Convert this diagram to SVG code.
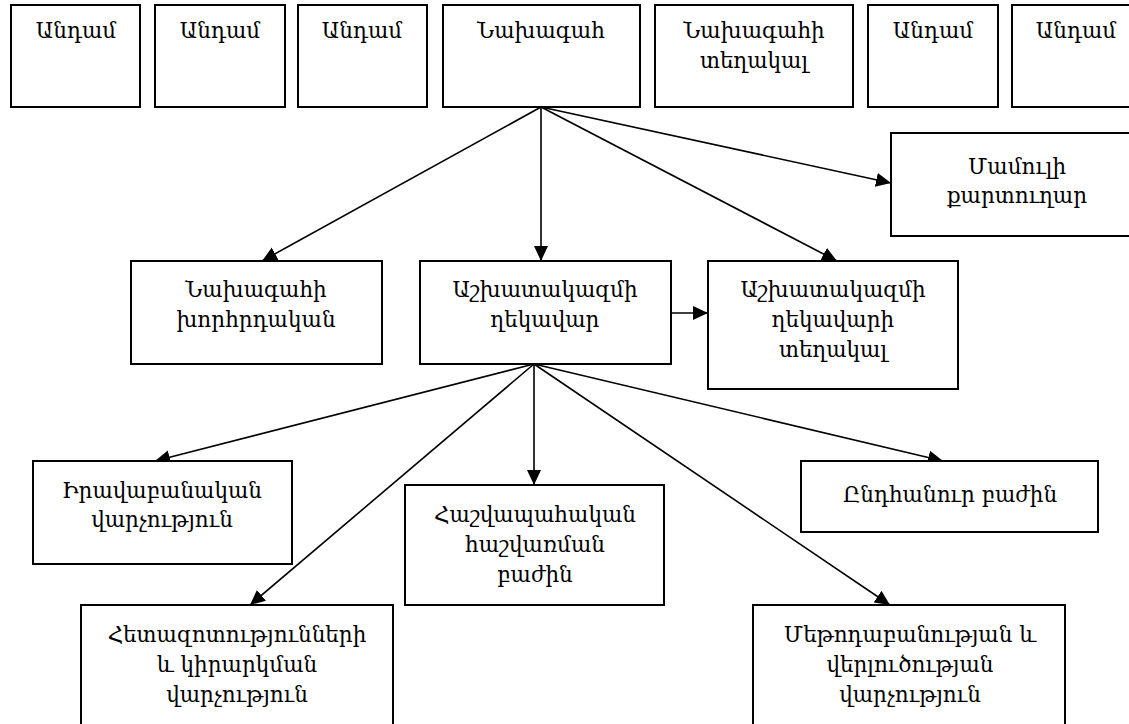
<svg xmlns="http://www.w3.org/2000/svg" width="1129" height="724" viewBox="0 0 1129 724">
<style>
.box{fill:#fff;stroke:#000;stroke-width:2}
.t{font-family:"DejaVu Serif","Noto Sans",serif;font-size:21.5px;text-anchor:middle;fill:#000}
.c{stroke:#000;stroke-width:1.6;fill:none;marker-end:url(#ah)}
</style>
<defs>
<marker id="ah" markerUnits="userSpaceOnUse" markerWidth="16" markerHeight="16" refX="15" refY="7" orient="auto">
<path d="M0,0 L15,7 L0,14 Z" fill="#000"/>
</marker>
</defs>
<rect width="1129" height="724" fill="#fff"/>
<g id="connectors">
<line class="c" x1="541" y1="107" x2="262" y2="261"/>
<line class="c" x1="541" y1="107" x2="541" y2="261"/>
<line class="c" x1="541" y1="107" x2="837" y2="261"/>
<line class="c" x1="541" y1="107" x2="891" y2="183"/>
<line class="c" x1="671" y1="313" x2="708" y2="313"/>
<line class="c" x1="534" y1="364" x2="155" y2="461"/>
<line class="c" x1="534" y1="364" x2="250" y2="605"/>
<line class="c" x1="534" y1="364" x2="534" y2="485"/>
<line class="c" x1="534" y1="364" x2="890" y2="605"/>
<line class="c" x1="534" y1="364" x2="943" y2="461"/>
</g>
<g id="member1"><rect class="box" x="11" y="5" width="129" height="102"/><text class="t" x="76" y="38">Անդամ</text></g>
<g id="member2"><rect class="box" x="155" y="5" width="130" height="102"/><text class="t" x="220" y="38">Անդամ</text></g>
<g id="member3"><rect class="box" x="298" y="5" width="129" height="102"/><text class="t" x="362" y="38">Անդամ</text></g>
<g id="president"><rect class="box" x="443" y="5" width="197" height="102"/><text class="t" x="541" y="38">Նախագահ</text></g>
<g id="vice-president"><rect class="box" x="655" y="5" width="198" height="102"/><text class="t" x="754" y="38">Նախագահի</text><text class="t" x="754" y="68">տեղակալ</text></g>
<g id="member4"><rect class="box" x="868" y="5" width="130" height="102"/><text class="t" x="933" y="38">Անդամ</text></g>
<g id="member5"><rect class="box" x="1012" y="5" width="129" height="102"/><text class="t" x="1076" y="38">Անդամ</text></g>
<g id="press-secretary"><rect class="box" x="891" y="133" width="252" height="103"/><text class="t" x="1017" y="174">Մամուլի</text><text class="t" x="1017" y="203">քարտուղար</text></g>
<g id="advisor"><rect class="box" x="131" y="261" width="251" height="103"/><text class="t" x="256" y="297">Նախագահի</text><text class="t" x="256" y="327">խորհրդական</text></g>
<g id="chief-of-staff"><rect class="box" x="420" y="261" width="251" height="103"/><text class="t" x="545" y="297">Աշխատակազմի</text><text class="t" x="545" y="327">ղեկավար</text></g>
<g id="deputy-chief"><rect class="box" x="708" y="261" width="250" height="128"/><text class="t" x="833" y="297">Աշխատակազմի</text><text class="t" x="833" y="327">ղեկավարի</text><text class="t" x="833" y="357">տեղակալ</text></g>
<g id="legal"><rect class="box" x="33" y="461" width="259" height="103"/><text class="t" x="162" y="498">Իրավաբանական</text><text class="t" x="162" y="527">վարչություն</text></g>
<g id="accounting"><rect class="box" x="405" y="485" width="259" height="120"/><text class="t" x="535" y="522">Հաշվապահական</text><text class="t" x="535" y="552">հաշվառման</text><text class="t" x="535" y="582">բաժին</text></g>
<g id="general"><rect class="box" x="801" y="461" width="297" height="71"/><text class="t" x="950" y="502">Ընդհանուր բաժին</text></g>
<g id="research"><rect class="box" x="81" y="605" width="312" height="130"/><text class="t" x="237" y="642">Հետազոտությունների</text><text class="t" x="237" y="672">և կիրարկման</text><text class="t" x="237" y="702">վարչություն</text></g>
<g id="methodology"><rect class="box" x="753" y="605" width="312" height="130"/><text class="t" x="910" y="642">Մեթոդաբանության և</text><text class="t" x="910" y="672">վերլուծության</text><text class="t" x="910" y="702">վարչություն</text></g>
</svg>
